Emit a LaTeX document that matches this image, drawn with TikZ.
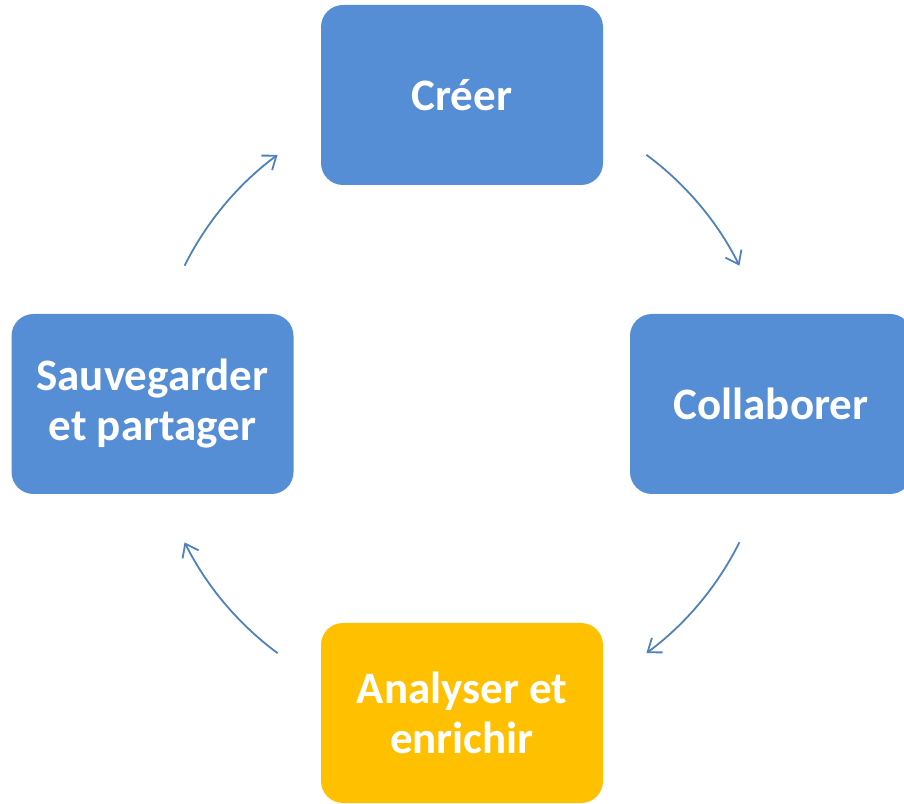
\documentclass[tikz,border=0pt]{standalone}
\usepackage{fontspec}
\setmainfont{Carlito}
\usetikzlibrary{arrows.meta}
\definecolor{boxblue}{HTML}{558ED5}
\definecolor{boxyellow}{HTML}{FFC000}
\definecolor{arcblue}{HTML}{4F81BD}
\begin{document}
\begin{tikzpicture}[x=1pt, y=1pt,
        etape/.style={fill=boxblue, rounded corners=22pt, minimum width=282pt, minimum height=180pt,
            inner sep=0pt, align=center, text=white, font=\fontsize{45}{50}\selectfont\bfseries},
        fleche/.style={arcblue, line width=1.8pt, -{Straight Barb[length=12pt,width=18pt]}}]
        \useasboundingbox (0,0) rectangle (904,803);
        \coordinate (mid) at (462,399); % centre of the cycle

        % Steps
        \node[etape] (creer) at (462,708) {Créer};
        \node[etape] (collab) at (771,399) {Collaborer};
        \node[etape, fill=boxyellow] (analyse) at (462,90) {Analyser et\\enrichir};
        \node[etape] (sauve) at (152.5,399) {Sauvegarder\\et partager};

        % Arcs between the steps
        \foreach \a/\b in {53.5/26.5, -26.5/-53.5, -126.5/-153.5, 153.5/126.5}
            \draw[fleche] (mid) ++(\a:310) arc[start angle=\a, end angle=\b, radius=310pt];
    \end{tikzpicture}
\end{document}
